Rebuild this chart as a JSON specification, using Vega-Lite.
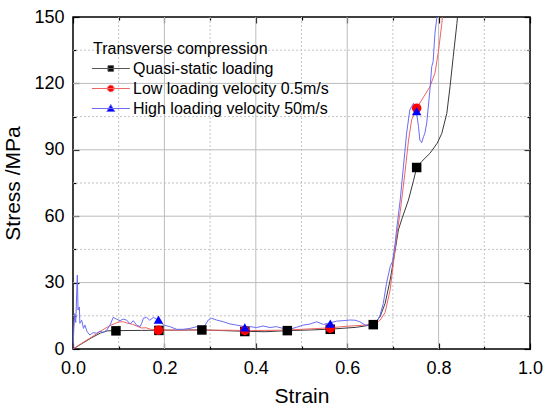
{
  "$schema": "https://vega.github.io/schema/vega-lite/v6.json",
  "width": 457,
  "height": 332,
  "autosize": {"type": "none"},
  "padding": {"left": 73, "top": 17, "right": 15, "bottom": 56},
  "background": "white",
  "config": {
    "font": "Liberation Sans",
    "view": {"stroke": "black", "strokeWidth": 1.5},
    "axis": {"labelFont": "Liberation Sans", "titleFont": "Liberation Sans", "labelColor": "black", "titleColor": "black", "tickColor": "black", "domainColor": "black", "domainWidth": 1.5, "tickWidth": 1.2, "labelFontSize": 18, "titleFontSize": 21, "titleFontWeight": "normal", "grid": false},
    "legend": {"labelFont": "Liberation Sans", "titleFont": "Liberation Sans", "labelFontSize": 16, "titleFontSize": 16, "titleFontWeight": "normal", "labelColor": "black", "titleColor": "black", "labelLimit": 0, "titleLimit": 0}
  },
  "datasets": {
    "xMajor": [{"Strain": 0.2}, {"Strain": 0.4}, {"Strain": 0.6}, {"Strain": 0.8}],
    "xMinor": [{"Strain": 0.1}, {"Strain": 0.3}, {"Strain": 0.5}, {"Strain": 0.7}, {"Strain": 0.9}],
    "yMajor": [{"Stress": 30}, {"Stress": 60}, {"Stress": 90}, {"Stress": 120}],
    "yMinor": [{"Stress": 15}, {"Stress": 45}, {"Stress": 75}, {"Stress": 105}, {"Stress": 135}],
    "curves": [
      {"Strain": 0, "Stress": 0, "Series": "Quasi-static loading"},
      {"Strain": 0.02, "Stress": 2.5, "Series": "Quasi-static loading"},
      {"Strain": 0.04, "Stress": 5, "Series": "Quasi-static loading"},
      {"Strain": 0.06, "Stress": 7.2, "Series": "Quasi-static loading"},
      {"Strain": 0.075, "Stress": 8.2, "Series": "Quasi-static loading"},
      {"Strain": 0.094, "Stress": 8.3, "Series": "Quasi-static loading"},
      {"Strain": 0.15, "Stress": 8.4, "Series": "Quasi-static loading"},
      {"Strain": 0.2, "Stress": 8.5, "Series": "Quasi-static loading"},
      {"Strain": 0.283, "Stress": 8.6, "Series": "Quasi-static loading"},
      {"Strain": 0.33, "Stress": 8.3, "Series": "Quasi-static loading"},
      {"Strain": 0.376, "Stress": 8.0, "Series": "Quasi-static loading"},
      {"Strain": 0.42, "Stress": 7.8, "Series": "Quasi-static loading"},
      {"Strain": 0.47, "Stress": 8.3, "Series": "Quasi-static loading"},
      {"Strain": 0.52, "Stress": 8.6, "Series": "Quasi-static loading"},
      {"Strain": 0.566, "Stress": 9.0, "Series": "Quasi-static loading"},
      {"Strain": 0.62, "Stress": 9.8, "Series": "Quasi-static loading"},
      {"Strain": 0.657, "Stress": 11, "Series": "Quasi-static loading"},
      {"Strain": 0.672, "Stress": 14.6, "Series": "Quasi-static loading"},
      {"Strain": 0.683, "Stress": 20.6, "Series": "Quasi-static loading"},
      {"Strain": 0.694, "Stress": 31.2, "Series": "Quasi-static loading"},
      {"Strain": 0.705, "Stress": 44.7, "Series": "Quasi-static loading"},
      {"Strain": 0.712, "Stress": 53.8, "Series": "Quasi-static loading"},
      {"Strain": 0.72, "Stress": 59, "Series": "Quasi-static loading"},
      {"Strain": 0.734, "Stress": 67.3, "Series": "Quasi-static loading"},
      {"Strain": 0.745, "Stress": 76, "Series": "Quasi-static loading"},
      {"Strain": 0.752, "Stress": 82, "Series": "Quasi-static loading"},
      {"Strain": 0.763, "Stress": 84.7, "Series": "Quasi-static loading"},
      {"Strain": 0.781, "Stress": 88.4, "Series": "Quasi-static loading"},
      {"Strain": 0.797, "Stress": 93, "Series": "Quasi-static loading"},
      {"Strain": 0.807, "Stress": 97.4, "Series": "Quasi-static loading"},
      {"Strain": 0.818, "Stress": 106.5, "Series": "Quasi-static loading"},
      {"Strain": 0.825, "Stress": 118.5, "Series": "Quasi-static loading"},
      {"Strain": 0.832, "Stress": 132, "Series": "Quasi-static loading"},
      {"Strain": 0.84, "Stress": 147, "Series": "Quasi-static loading"},
      {"Strain": 0.845, "Stress": 158, "Series": "Quasi-static loading"},
      {"Strain": 0, "Stress": 0, "Series": "Low loading velocity 0.5m/s"},
      {"Strain": 0.02, "Stress": 2.7, "Series": "Low loading velocity 0.5m/s"},
      {"Strain": 0.04, "Stress": 5.3, "Series": "Low loading velocity 0.5m/s"},
      {"Strain": 0.06, "Stress": 8, "Series": "Low loading velocity 0.5m/s"},
      {"Strain": 0.08, "Stress": 10.5, "Series": "Low loading velocity 0.5m/s"},
      {"Strain": 0.1, "Stress": 12.2, "Series": "Low loading velocity 0.5m/s"},
      {"Strain": 0.11, "Stress": 12.3, "Series": "Low loading velocity 0.5m/s"},
      {"Strain": 0.12, "Stress": 11.6, "Series": "Low loading velocity 0.5m/s"},
      {"Strain": 0.13, "Stress": 11.2, "Series": "Low loading velocity 0.5m/s"},
      {"Strain": 0.14, "Stress": 10.3, "Series": "Low loading velocity 0.5m/s"},
      {"Strain": 0.15, "Stress": 9.5, "Series": "Low loading velocity 0.5m/s"},
      {"Strain": 0.16, "Stress": 9.6, "Series": "Low loading velocity 0.5m/s"},
      {"Strain": 0.17, "Stress": 8.9, "Series": "Low loading velocity 0.5m/s"},
      {"Strain": 0.187, "Stress": 8.6, "Series": "Low loading velocity 0.5m/s"},
      {"Strain": 0.22, "Stress": 8.5, "Series": "Low loading velocity 0.5m/s"},
      {"Strain": 0.26, "Stress": 8.6, "Series": "Low loading velocity 0.5m/s"},
      {"Strain": 0.3, "Stress": 8.5, "Series": "Low loading velocity 0.5m/s"},
      {"Strain": 0.34, "Stress": 8.5, "Series": "Low loading velocity 0.5m/s"},
      {"Strain": 0.376, "Stress": 8.3, "Series": "Low loading velocity 0.5m/s"},
      {"Strain": 0.42, "Stress": 8.4, "Series": "Low loading velocity 0.5m/s"},
      {"Strain": 0.46, "Stress": 8.5, "Series": "Low loading velocity 0.5m/s"},
      {"Strain": 0.5, "Stress": 8.9, "Series": "Low loading velocity 0.5m/s"},
      {"Strain": 0.53, "Stress": 9.2, "Series": "Low loading velocity 0.5m/s"},
      {"Strain": 0.563, "Stress": 9.6, "Series": "Low loading velocity 0.5m/s"},
      {"Strain": 0.6, "Stress": 10.3, "Series": "Low loading velocity 0.5m/s"},
      {"Strain": 0.64, "Stress": 10.8, "Series": "Low loading velocity 0.5m/s"},
      {"Strain": 0.66, "Stress": 11.3, "Series": "Low loading velocity 0.5m/s"},
      {"Strain": 0.672, "Stress": 13, "Series": "Low loading velocity 0.5m/s"},
      {"Strain": 0.683, "Stress": 16.5, "Series": "Low loading velocity 0.5m/s"},
      {"Strain": 0.694, "Stress": 26.7, "Series": "Low loading velocity 0.5m/s"},
      {"Strain": 0.701, "Stress": 38.7, "Series": "Low loading velocity 0.5m/s"},
      {"Strain": 0.708, "Stress": 50.7, "Series": "Low loading velocity 0.5m/s"},
      {"Strain": 0.716, "Stress": 62, "Series": "Low loading velocity 0.5m/s"},
      {"Strain": 0.726, "Stress": 79, "Series": "Low loading velocity 0.5m/s"},
      {"Strain": 0.734, "Stress": 94, "Series": "Low loading velocity 0.5m/s"},
      {"Strain": 0.741, "Stress": 103.5, "Series": "Low loading velocity 0.5m/s"},
      {"Strain": 0.752, "Stress": 108.8, "Series": "Low loading velocity 0.5m/s"},
      {"Strain": 0.763, "Stress": 112.5, "Series": "Low loading velocity 0.5m/s"},
      {"Strain": 0.781, "Stress": 118.5, "Series": "Low loading velocity 0.5m/s"},
      {"Strain": 0.792, "Stress": 124.6, "Series": "Low loading velocity 0.5m/s"},
      {"Strain": 0.8, "Stress": 135, "Series": "Low loading velocity 0.5m/s"},
      {"Strain": 0.807, "Stress": 147, "Series": "Low loading velocity 0.5m/s"},
      {"Strain": 0.812, "Stress": 158, "Series": "Low loading velocity 0.5m/s"},
      {"Strain": 0, "Stress": 0, "Series": "High loading velocity 50m/s"},
      {"Strain": 0.002, "Stress": 10, "Series": "High loading velocity 50m/s"},
      {"Strain": 0.004, "Stress": 16, "Series": "High loading velocity 50m/s"},
      {"Strain": 0.006, "Stress": 12, "Series": "High loading velocity 50m/s"},
      {"Strain": 0.0095, "Stress": 33.4, "Series": "High loading velocity 50m/s"},
      {"Strain": 0.011, "Stress": 17.6, "Series": "High loading velocity 50m/s"},
      {"Strain": 0.014, "Stress": 19, "Series": "High loading velocity 50m/s"},
      {"Strain": 0.015, "Stress": 11.6, "Series": "High loading velocity 50m/s"},
      {"Strain": 0.019, "Stress": 13, "Series": "High loading velocity 50m/s"},
      {"Strain": 0.023, "Stress": 9.3, "Series": "High loading velocity 50m/s"},
      {"Strain": 0.026, "Stress": 10.8, "Series": "High loading velocity 50m/s"},
      {"Strain": 0.031, "Stress": 7.8, "Series": "High loading velocity 50m/s"},
      {"Strain": 0.037, "Stress": 6.3, "Series": "High loading velocity 50m/s"},
      {"Strain": 0.044, "Stress": 7.4, "Series": "High loading velocity 50m/s"},
      {"Strain": 0.052, "Stress": 7.1, "Series": "High loading velocity 50m/s"},
      {"Strain": 0.059, "Stress": 8.1, "Series": "High loading velocity 50m/s"},
      {"Strain": 0.066, "Stress": 7.4, "Series": "High loading velocity 50m/s"},
      {"Strain": 0.074, "Stress": 8.6, "Series": "High loading velocity 50m/s"},
      {"Strain": 0.081, "Stress": 10.8, "Series": "High loading velocity 50m/s"},
      {"Strain": 0.088, "Stress": 14.3, "Series": "High loading velocity 50m/s"},
      {"Strain": 0.096, "Stress": 13.4, "Series": "High loading velocity 50m/s"},
      {"Strain": 0.103, "Stress": 12.8, "Series": "High loading velocity 50m/s"},
      {"Strain": 0.11, "Stress": 13.5, "Series": "High loading velocity 50m/s"},
      {"Strain": 0.117, "Stress": 13.1, "Series": "High loading velocity 50m/s"},
      {"Strain": 0.125, "Stress": 11.3, "Series": "High loading velocity 50m/s"},
      {"Strain": 0.132, "Stress": 12.8, "Series": "High loading velocity 50m/s"},
      {"Strain": 0.139, "Stress": 10.8, "Series": "High loading velocity 50m/s"},
      {"Strain": 0.147, "Stress": 10.1, "Series": "High loading velocity 50m/s"},
      {"Strain": 0.15, "Stress": 11.5, "Series": "High loading velocity 50m/s"},
      {"Strain": 0.154, "Stress": 13.9, "Series": "High loading velocity 50m/s"},
      {"Strain": 0.161, "Stress": 14.3, "Series": "High loading velocity 50m/s"},
      {"Strain": 0.168, "Stress": 13, "Series": "High loading velocity 50m/s"},
      {"Strain": 0.176, "Stress": 14.3, "Series": "High loading velocity 50m/s"},
      {"Strain": 0.183, "Stress": 13.4, "Series": "High loading velocity 50m/s"},
      {"Strain": 0.19, "Stress": 13.1, "Series": "High loading velocity 50m/s"},
      {"Strain": 0.198, "Stress": 10.8, "Series": "High loading velocity 50m/s"},
      {"Strain": 0.212, "Stress": 10.1, "Series": "High loading velocity 50m/s"},
      {"Strain": 0.227, "Stress": 8.9, "Series": "High loading velocity 50m/s"},
      {"Strain": 0.241, "Stress": 8.9, "Series": "High loading velocity 50m/s"},
      {"Strain": 0.256, "Stress": 9.3, "Series": "High loading velocity 50m/s"},
      {"Strain": 0.271, "Stress": 10.1, "Series": "High loading velocity 50m/s"},
      {"Strain": 0.285, "Stress": 9.3, "Series": "High loading velocity 50m/s"},
      {"Strain": 0.296, "Stress": 13.1, "Series": "High loading velocity 50m/s"},
      {"Strain": 0.303, "Stress": 13.9, "Series": "High loading velocity 50m/s"},
      {"Strain": 0.314, "Stress": 13.1, "Series": "High loading velocity 50m/s"},
      {"Strain": 0.329, "Stress": 12.3, "Series": "High loading velocity 50m/s"},
      {"Strain": 0.344, "Stress": 11.3, "Series": "High loading velocity 50m/s"},
      {"Strain": 0.358, "Stress": 10.8, "Series": "High loading velocity 50m/s"},
      {"Strain": 0.375, "Stress": 10.1, "Series": "High loading velocity 50m/s"},
      {"Strain": 0.387, "Stress": 10.1, "Series": "High loading velocity 50m/s"},
      {"Strain": 0.402, "Stress": 9.7, "Series": "High loading velocity 50m/s"},
      {"Strain": 0.416, "Stress": 10.4, "Series": "High loading velocity 50m/s"},
      {"Strain": 0.431, "Stress": 9.7, "Series": "High loading velocity 50m/s"},
      {"Strain": 0.445, "Stress": 10.1, "Series": "High loading velocity 50m/s"},
      {"Strain": 0.46, "Stress": 9.3, "Series": "High loading velocity 50m/s"},
      {"Strain": 0.474, "Stress": 8.9, "Series": "High loading velocity 50m/s"},
      {"Strain": 0.489, "Stress": 9.8, "Series": "High loading velocity 50m/s"},
      {"Strain": 0.504, "Stress": 10.8, "Series": "High loading velocity 50m/s"},
      {"Strain": 0.519, "Stress": 11.3, "Series": "High loading velocity 50m/s"},
      {"Strain": 0.533, "Stress": 12.3, "Series": "High loading velocity 50m/s"},
      {"Strain": 0.548, "Stress": 11.1, "Series": "High loading velocity 50m/s"},
      {"Strain": 0.562, "Stress": 11.8, "Series": "High loading velocity 50m/s"},
      {"Strain": 0.577, "Stress": 12.6, "Series": "High loading velocity 50m/s"},
      {"Strain": 0.591, "Stress": 12.8, "Series": "High loading velocity 50m/s"},
      {"Strain": 0.606, "Stress": 13.1, "Series": "High loading velocity 50m/s"},
      {"Strain": 0.617, "Stress": 13.0, "Series": "High loading velocity 50m/s"},
      {"Strain": 0.628, "Stress": 12.3, "Series": "High loading velocity 50m/s"},
      {"Strain": 0.639, "Stress": 10.8, "Series": "High loading velocity 50m/s"},
      {"Strain": 0.654, "Stress": 10.8, "Series": "High loading velocity 50m/s"},
      {"Strain": 0.665, "Stress": 12.3, "Series": "High loading velocity 50m/s"},
      {"Strain": 0.672, "Stress": 15.4, "Series": "High loading velocity 50m/s"},
      {"Strain": 0.679, "Stress": 20.6, "Series": "High loading velocity 50m/s"},
      {"Strain": 0.686, "Stress": 29.7, "Series": "High loading velocity 50m/s"},
      {"Strain": 0.694, "Stress": 37.2, "Series": "High loading velocity 50m/s"},
      {"Strain": 0.699, "Stress": 39.5, "Series": "High loading velocity 50m/s"},
      {"Strain": 0.705, "Stress": 47.8, "Series": "High loading velocity 50m/s"},
      {"Strain": 0.708, "Stress": 53.8, "Series": "High loading velocity 50m/s"},
      {"Strain": 0.716, "Stress": 67.3, "Series": "High loading velocity 50m/s"},
      {"Strain": 0.723, "Stress": 82.4, "Series": "High loading velocity 50m/s"},
      {"Strain": 0.73, "Stress": 97.5, "Series": "High loading velocity 50m/s"},
      {"Strain": 0.737, "Stress": 108, "Series": "High loading velocity 50m/s"},
      {"Strain": 0.745, "Stress": 111, "Series": "High loading velocity 50m/s"},
      {"Strain": 0.748, "Stress": 109.5, "Series": "High loading velocity 50m/s"},
      {"Strain": 0.752, "Stress": 106.5, "Series": "High loading velocity 50m/s"},
      {"Strain": 0.756, "Stress": 100.5, "Series": "High loading velocity 50m/s"},
      {"Strain": 0.759, "Stress": 94.4, "Series": "High loading velocity 50m/s"},
      {"Strain": 0.763, "Stress": 93.2, "Series": "High loading velocity 50m/s"},
      {"Strain": 0.767, "Stress": 95.9, "Series": "High loading velocity 50m/s"},
      {"Strain": 0.77, "Stress": 97.5, "Series": "High loading velocity 50m/s"},
      {"Strain": 0.774, "Stress": 102, "Series": "High loading velocity 50m/s"},
      {"Strain": 0.781, "Stress": 117, "Series": "High loading velocity 50m/s"},
      {"Strain": 0.785, "Stress": 127.6, "Series": "High loading velocity 50m/s"},
      {"Strain": 0.788, "Stress": 129.8, "Series": "High loading velocity 50m/s"},
      {"Strain": 0.792, "Stress": 142.6, "Series": "High loading velocity 50m/s"},
      {"Strain": 0.796, "Stress": 149.4, "Series": "High loading velocity 50m/s"},
      {"Strain": 0.799, "Stress": 158, "Series": "High loading velocity 50m/s"}
    ],
    "markers": [
      {"Strain": 0.094, "Stress": 8.2, "Series": "Quasi-static loading"},
      {"Strain": 0.188, "Stress": 8.4, "Series": "Quasi-static loading"},
      {"Strain": 0.282, "Stress": 8.6, "Series": "Quasi-static loading"},
      {"Strain": 0.376, "Stress": 7.9, "Series": "Quasi-static loading"},
      {"Strain": 0.469, "Stress": 8.3, "Series": "Quasi-static loading"},
      {"Strain": 0.563, "Stress": 8.9, "Series": "Quasi-static loading"},
      {"Strain": 0.657, "Stress": 11, "Series": "Quasi-static loading"},
      {"Strain": 0.752, "Stress": 82, "Series": "Quasi-static loading"},
      {"Strain": 0.187, "Stress": 8.5, "Series": "Low loading velocity 0.5m/s"},
      {"Strain": 0.376, "Stress": 8.4, "Series": "Low loading velocity 0.5m/s"},
      {"Strain": 0.563, "Stress": 9.4, "Series": "Low loading velocity 0.5m/s"},
      {"Strain": 0.752, "Stress": 108.8, "Series": "Low loading velocity 0.5m/s"},
      {"Strain": 0.187, "Stress": 13.3, "Series": "High loading velocity 50m/s"},
      {"Strain": 0.376, "Stress": 9.8, "Series": "High loading velocity 50m/s"},
      {"Strain": 0.563, "Stress": 11.5, "Series": "High loading velocity 50m/s"},
      {"Strain": 0.752, "Stress": 107.5, "Series": "High loading velocity 50m/s"}
    ]
  },
  "resolve": {
    "scale": {"color": "independent", "shape": "independent", "fill": "independent", "stroke": "independent"},
    "axis": {"x": "independent", "y": "independent"}
  },
  "layer": [
    {
      "data": {"name": "xMinor"},
      "mark": {"type": "rule", "color": "#c4c4c4", "strokeWidth": 1, "strokeDash": [2, 2]},
      "encoding": {
        "x": {"field": "Strain", "type": "quantitative", "scale": {"domain": [0, 1], "nice": false},
          "axis": {"orient": "bottom", "values": [0.1, 0.3, 0.5, 0.7, 0.9], "labels": false, "title": null, "domain": false, "tickSize": 3, "offset": -3}}
      }
    },
    {
      "data": {"name": "yMinor"},
      "mark": {"type": "rule", "color": "#c4c4c4", "strokeWidth": 1, "strokeDash": [2, 2]},
      "encoding": {
        "y": {"field": "Stress", "type": "quantitative", "scale": {"domain": [0, 150], "nice": false},
          "axis": {"orient": "left", "values": [15, 45, 75, 105, 135], "labels": false, "title": null, "domain": false, "tickSize": 3, "offset": -3}}
      }
    },
    {
      "data": {"name": "xMajor"},
      "mark": {"type": "rule", "color": "#bcbcbc", "strokeWidth": 1},
      "encoding": {
        "x": {"field": "Strain", "type": "quantitative",
          "axis": {"orient": "top", "values": [0, 0.2, 0.4, 0.6, 0.8, 1.0], "labels": false, "title": null, "domain": false, "tickSize": 6, "offset": -6}}
      }
    },
    {
      "data": {"name": "yMajor"},
      "mark": {"type": "rule", "color": "#bcbcbc", "strokeWidth": 1},
      "encoding": {
        "y": {"field": "Stress", "type": "quantitative",
          "axis": {"orient": "right", "values": [0, 30, 60, 90, 120, 150], "labels": false, "title": null, "domain": false, "tickSize": 6, "offset": -6}}
      }
    },
    {
      "data": {"name": "curves"},
      "mark": {"type": "line", "strokeWidth": 1, "clip": true, "interpolate": "linear"},
      "encoding": {
        "x": {"field": "Strain", "type": "quantitative", "scale": {"domain": [0, 1], "nice": false},
          "axis": {"orient": "bottom", "values": [0, 0.2, 0.4, 0.6, 0.8, 1.0], "format": ".1f", "title": "Strain", "domain": false, "tickSize": 6, "offset": -6, "labelPadding": 10, "titlePadding": 8, "labelFlush": false}},
        "y": {"field": "Stress", "type": "quantitative", "scale": {"domain": [0, 150], "nice": false},
          "axis": {"orient": "left", "values": [0, 30, 60, 90, 120, 150], "title": "Stress /MPa", "domain": false, "tickSize": 6, "offset": -6, "labelPadding": 9, "titlePadding": 10, "labelFlush": false}},
        "color": {"field": "Series", "type": "nominal", "legend": null,
          "scale": {"domain": ["Quasi-static loading", "Low loading velocity 0.5m/s", "High loading velocity 50m/s"], "range": ["#3a3a3a", "#f06464", "#6b6bf5"]}}
      }
    },
    {
      "data": {"name": "markers"},
      "mark": {"type": "point", "filled": true, "opacity": 1, "size": 90},
      "encoding": {
        "x": {"field": "Strain", "type": "quantitative",
          "axis": {"orient": "top", "values": [0.1, 0.3, 0.5, 0.7, 0.9], "labels": false, "title": null, "domain": false, "tickSize": 3, "offset": -3}},
        "y": {"field": "Stress", "type": "quantitative",
          "axis": {"orient": "right", "values": [15, 45, 75, 105, 135], "labels": false, "title": null, "domain": false, "tickSize": 3, "offset": -3}},
        "color": {"field": "Series", "type": "nominal", "legend": null,
          "scale": {"domain": ["Quasi-static loading", "Low loading velocity 0.5m/s", "High loading velocity 50m/s"], "range": ["#000000", "#ff0000", "#0000ff"]}},
        "shape": {"field": "Series", "type": "nominal", "legend": null,
          "scale": {"domain": ["Quasi-static loading", "Low loading velocity 0.5m/s", "High loading velocity 50m/s"], "range": ["square", "circle", "triangle-up"]}}
      }
    },
    {
      "data": {"name": "markers"},
      "transform": [{"filter": "datum.Strain < 0"}],
      "mark": {"type": "point", "filled": true, "strokeWidth": 1},
      "encoding": {
        "x": {"field": "Strain", "type": "quantitative", "axis": null},
        "y": {"field": "Stress", "type": "quantitative", "axis": null},
        "fill": {"field": "Series", "type": "nominal", "title": "Transverse compression",
          "scale": {"domain": ["Quasi-static loading", "Low loading velocity 0.5m/s", "High loading velocity 50m/s"], "range": ["#000000", "#ff0000", "#0000ff"]},
          "legend": {"orient": "none", "legendX": 20, "legendY": 24, "padding": 0, "symbolSize": 256, "symbolStrokeWidth": 1, "labelOffset": 23, "rowPadding": 3, "titlePadding": 3, "symbolOpacity": 1, "labelLimit": 0}},
        "stroke": {"field": "Series", "type": "nominal", "title": "Transverse compression",
          "scale": {"domain": ["Quasi-static loading", "Low loading velocity 0.5m/s", "High loading velocity 50m/s"], "range": ["#555555", "#f06464", "#6b6bf5"]},
          "legend": {"orient": "none", "legendX": 20, "legendY": 24, "padding": 0, "symbolSize": 256, "symbolStrokeWidth": 1, "labelOffset": 23, "rowPadding": 3, "titlePadding": 3, "symbolOpacity": 1, "labelLimit": 0}},
        "shape": {"field": "Series", "type": "nominal", "title": "Transverse compression",
          "scale": {"domain": ["Quasi-static loading", "Low loading velocity 0.5m/s", "High loading velocity 50m/s"],
            "range": ["M-1.2,0H3.54M0.81,-0.35H1.51V0.35H0.81Z", "M-1.2,0H3.54M1.57,0A0.41,0.41,0,1,1,0.75,0A0.41,0.41,0,1,1,1.57,0Z", "M-1.2,0H3.54M1.16,-0.5L1.66,0.38H0.66Z"]},
          "legend": {"orient": "none", "legendX": 20, "legendY": 24, "padding": 0, "symbolSize": 256, "symbolStrokeWidth": 1, "labelOffset": 23, "rowPadding": 3, "titlePadding": 3, "symbolOpacity": 1, "labelLimit": 0}}
      }
    }
  ]
}
